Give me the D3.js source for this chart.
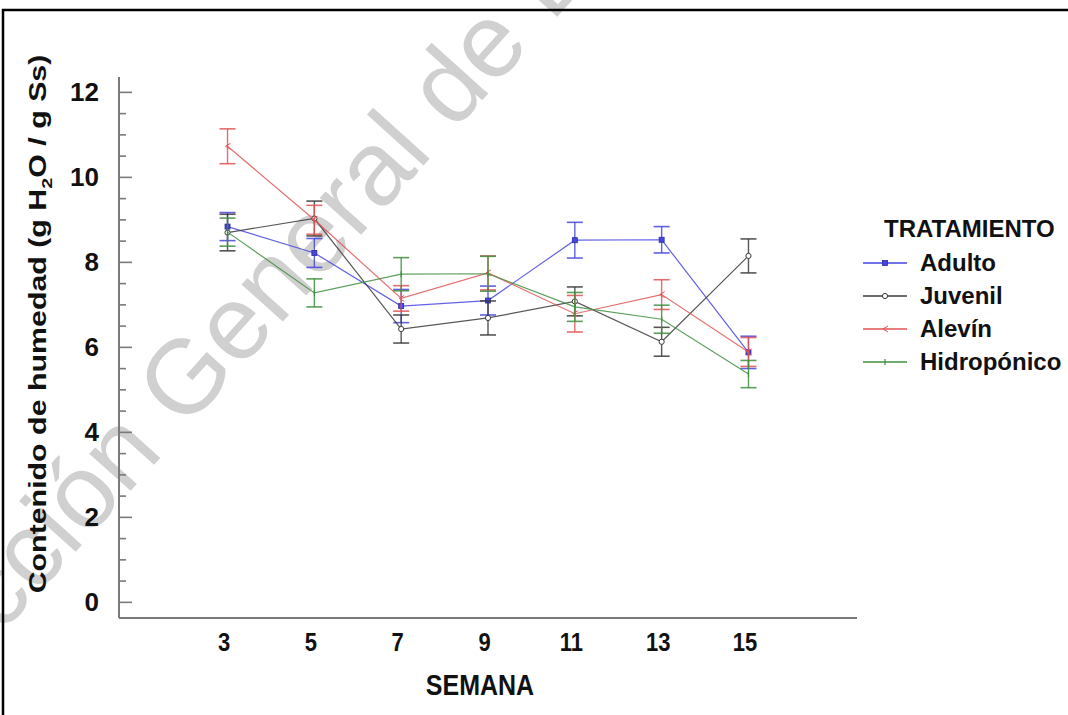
<!DOCTYPE html>
<html>
<head>
<meta charset="utf-8">
<script src="https://cdn.jsdelivr.net/npm/d3@7"></script>
<style>
  html, body { margin: 0; padding: 0; background: #fff; }
  svg { display: block; }
  text { font-family: "Liberation Sans", Arial, sans-serif; }
</style>
</head>
<body>
<svg id="chart" width="1068" height="715"></svg>
<script>
// Weeks sampled and treatment groups
const weeks = [3, 5, 7, 9, 11, 13, 15];
const treatments = ["Adulto", "Juvenil", "Alevín", "Hidropónico"];

// Mean moisture content (g H2O / g dry solids) and error half-widths
const adultoMean = [8.83, 8.21, 6.96, 7.09, 8.51, 8.52, 5.87];
const adultoErr  = [0.33, 0.34, 0.39, 0.34, 0.42, 0.31, 0.38];
const juvenilMean = [8.69, 9.02, 6.42, 6.68, 7.07, 6.12, 8.14];
const juvenilErr  = [0.43, 0.41, 0.33, 0.40, 0.34, 0.34, 0.40];
const alevinMean = [10.72, 8.99, 7.14, 7.74, 6.78, 7.23, 5.88];
const alevinErr  = [0.41, 0.34, 0.30, 0.40, 0.43, 0.35, 0.34];
const hidroMean = [8.70, 7.27, 7.71, 7.72, 6.94, 6.65, 5.36];
const hidroErr  = [0.33, 0.33, 0.39, 0.41, 0.34, 0.33, 0.32];

const yMajorTicks = [0, 2, 4, 6, 8, 10, 12];

const colors = ["#4646e2", "#3a3a3a", "#e05555", "#3f8f3f"];
const markers = ["square", "circle", "arrow", "plus"];

const series = treatments.map((name, i) => ({
  name,
  color: colors[i],
  marker: markers[i],
  values: weeks.map((w, j) => ({
    week: w,
    mean: [adultoMean, juvenilMean, alevinMean, hidroMean][i][j],
    err: [adultoErr, juvenilErr, alevinErr, hidroErr][i][j]
  }))
}));

const svg = d3.select("#chart");

// Background watermark lettering
svg.append("text")
  .attr("transform", "translate(-128,778) rotate(-48)")
  .attr("font-size", 105)
  .attr("fill", "#d0d0d0")
  .text("Dirección General de Bibliotecas");

const x = d3.scaleLinear().domain([0.5, 17.5]).range([119, 857]);
const y = d3.scaleLinear().domain([-0.38, 12.35]).range([618, 77]);

const axisColor = "#7a7a7a";

// Y axis: major and minor ticks drawn inward
const minorTicks = d3.range(0, 12.01, 0.5).filter(v => v % 2 !== 0);
const gy = svg.append("g").attr("transform", `translate(${x(0.5)},0)`);
gy.call(d3.axisRight(y).tickValues(minorTicks).tickSize(7).tickFormat("").tickSizeOuter(0));
gy.call(g => g.select(".domain").remove());
const gyMaj = svg.append("g").attr("transform", `translate(${x(0.5)},0)`);
gyMaj.call(d3.axisRight(y).tickValues(yMajorTicks).tickSize(13).tickFormat("").tickSizeOuter(0));
gyMaj.selectAll(".domain").remove();
svg.selectAll(".tick line").attr("stroke", axisColor).attr("stroke-width", 1.6);

svg.append("line")
  .attr("x1", x(0.5)).attr("x2", x(0.5))
  .attr("y1", y.range()[1]).attr("y2", y.range()[0])
  .attr("stroke", axisColor).attr("stroke-width", 2);

// Y tick labels
const gyl = svg.append("g").attr("transform", `translate(${x(0.5)},0)`);
gyl.call(d3.axisLeft(y).tickValues(yMajorTicks).tickSize(0).tickPadding(20).tickFormat(d3.format("d")));
gyl.select(".domain").remove();
gyl.selectAll("text")
  .attr("font-family", "Liberation Sans, Arial, sans-serif")
  .attr("font-size", 26).attr("font-weight", "bold").attr("fill", "#111");

// X axis line and labels
svg.append("line")
  .attr("x1", x(0.5)).attr("x2", x(17.5))
  .attr("y1", y(-0.38)).attr("y2", y(-0.38))
  .attr("stroke", axisColor).attr("stroke-width", 2);

const gx = svg.append("g").attr("transform", `translate(-4,${y(-0.38)})`);
gx.call(d3.axisBottom(x).tickValues(weeks).tickSize(0).tickPadding(12).tickFormat(d3.format("d")));
gx.select(".domain").remove();
gx.selectAll("text")
  .attr("font-family", "Liberation Sans, Arial, sans-serif")
  .attr("font-size", 22).attr("font-weight", "bold").attr("fill", "#111")
  .attr("transform", "scale(1,1.2)");

svg.append("text")
  .attr("transform", "translate(480,695) scale(1,1.15)")
  .attr("text-anchor", "middle")
  .attr("font-size", 25).attr("font-weight", "bold").attr("fill", "#111")
  .text("SEMANA");

// Y axis title with subscript
const yt = svg.append("text")
  .attr("transform", "translate(46,324) scale(1,1.32) rotate(-90)")
  .attr("text-anchor", "middle")
  .attr("font-size", 23).attr("font-weight", "bold").attr("fill", "#111");
yt.append("tspan").text("Contenido de humedad (g H");
yt.append("tspan").attr("font-size", 15).attr("dy", 6).text("2");
yt.append("tspan").attr("dy", -6).text("O / g Ss)");

// Marker shapes
function drawMarker(g, type, cx, cy, color) {
  if (type === "square") {
    g.append("rect").attr("x", cx - 2.5).attr("y", cy - 2.5).attr("width", 5).attr("height", 5)
      .attr("fill", color).attr("stroke", "#2a2aa0").attr("stroke-width", 0.8);
  } else if (type === "circle") {
    g.append("circle").attr("cx", cx).attr("cy", cy).attr("r", 2.6)
      .attr("fill", "#fff").attr("stroke", color).attr("stroke-width", 1);
  } else if (type === "arrow") {
    g.append("path").attr("d", `M${cx + 3},${cy - 3}L${cx - 2},${cy}L${cx + 3},${cy + 3}`)
      .attr("fill", "none").attr("stroke", color).attr("stroke-width", 1);
  } else {
    g.append("path").attr("d", `M${cx},${cy - 3}V${cy + 3}`)
      .attr("fill", "none").attr("stroke", color).attr("stroke-width", 1.2);
  }
}

const line = d3.line().x(d => x(d.week)).y(d => y(d.mean));
const plot = svg.append("g");

series.forEach(s => {
  const g = plot.append("g");
  // error bars
  s.values.forEach(d => {
    const cx = x(d.week);
    g.append("line").attr("x1", cx).attr("x2", cx)
      .attr("y1", y(d.mean - d.err)).attr("y2", y(d.mean + d.err))
      .attr("stroke", s.color).attr("stroke-width", 1.4).attr("opacity", 0.85);
    [d.mean - d.err, d.mean + d.err].forEach(v => {
      g.append("line").attr("x1", cx - 8).attr("x2", cx + 8)
        .attr("y1", y(v)).attr("y2", y(v))
        .attr("stroke", s.color).attr("stroke-width", 1.6).attr("opacity", 0.85);
    });
  });
  g.append("path").datum(s.values).attr("d", line)
    .attr("fill", "none").attr("stroke", s.color).attr("stroke-width", 1.2).attr("opacity", 0.85);
  s.values.forEach(d => drawMarker(g, s.marker, x(d.week), y(d.mean), s.color));
});

// Legend
const legend = svg.append("g");
legend.append("text").attr("x", 884).attr("y", 237)
  .attr("font-size", 24).attr("font-weight", "bold").attr("fill", "#111")
  .text("TRATAMIENTO");
series.forEach((s, i) => {
  const by = 271 + i * 33;
  legend.append("line").attr("x1", 863).attr("x2", 907)
    .attr("y1", by - 8).attr("y2", by - 8)
    .attr("stroke", s.color).attr("stroke-width", 1.3);
  drawMarker(legend, s.marker, 885, by - 8, s.color);
  legend.append("text").attr("x", 920).attr("y", by)
    .attr("font-size", 24).attr("font-weight", "bold").attr("fill", "#111")
    .text(s.name);
});

// Outer frame
svg.append("rect").attr("x", 3).attr("y", 10).attr("width", 1100).attr("height", 800)
  .attr("fill", "none").attr("stroke", "#000").attr("stroke-width", 2.5);
</script>
</body>
</html>
